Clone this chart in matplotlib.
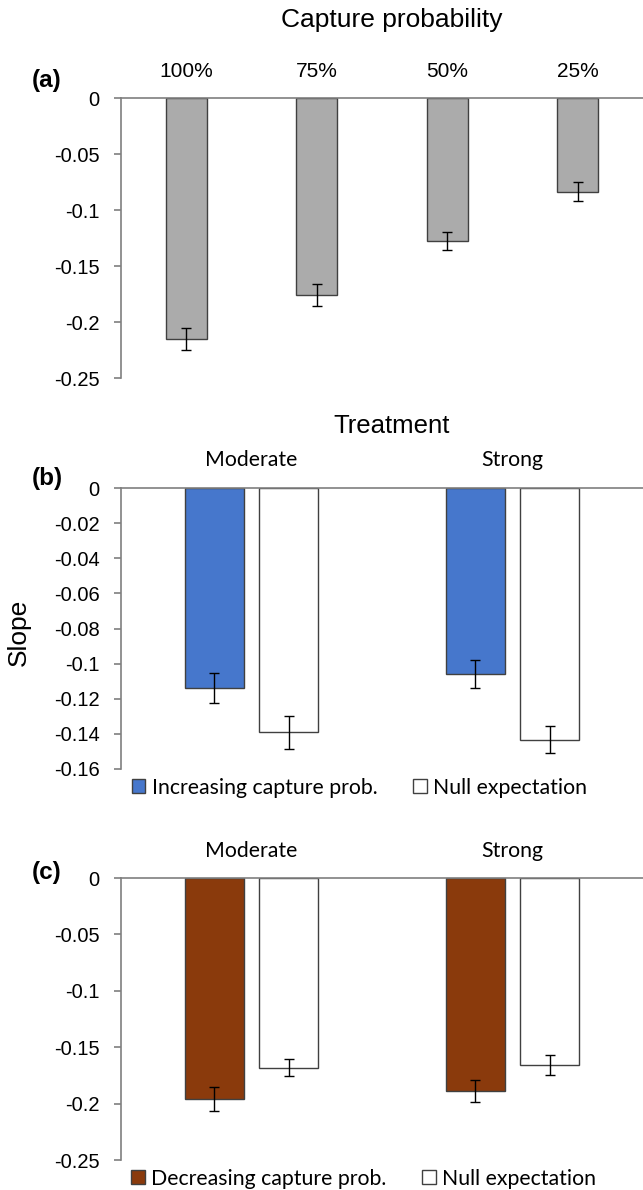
import matplotlib.pyplot as plt
from matplotlib.patches import Patch

# values
cap_labels = ['100%', '75%', '50%', '25%']
cap_slope = [-0.215, -0.176, -0.128, -0.0835]
cap_err = [0.010, 0.0095, 0.008, 0.0083]

treat_labels = ['Moderate', 'Strong']
inc_slope = [-0.114, -0.106]
inc_err = [0.0084, 0.008]
null_b_slope = [-0.139, -0.1433]
null_b_err = [0.0094, 0.0078]

dec_slope = [-0.196, -0.189]
dec_err = [0.0105, 0.0098]
null_c_slope = [-0.168, -0.1657]
null_c_err = [0.0078, 0.0092]

W, H = 643, 1190
fig = plt.figure(figsize=(W / 100, H / 100), dpi=100)

num_font = ['Liberation Sans', 'DejaVu Sans']
cal_font = ['Lato', 'DejaVu Sans']
spine_col = '#7f7f7f'
edge_col = '#404040'
AX_L, AX_W = 121, 522


def make_axes(top_px, bottom_px):
    ax = fig.add_axes([AX_L / W, 1 - bottom_px / H, AX_W / W, (bottom_px - top_px) / H])
    for s in ['right', 'bottom']:
        ax.spines[s].set_visible(False)
    for s in ['left', 'top']:
        ax.spines[s].set_color(spine_col)
        ax.spines[s].set_linewidth(1.2)
    ax.tick_params(axis='y', direction='out', length=5.4, color=spine_col, width=1.2, pad=10)
    ax.tick_params(axis='x', top=True, bottom=False, labeltop=True, labelbottom=False, length=0)
    return ax


err_kw = dict(ecolor='black', elinewidth=1, capsize=3.5, capthick=1)

# (a) capture probability
ax1 = make_axes(98, 378)
x = list(range(len(cap_labels)))
ax1.bar(x, cap_slope, width=0.315, color='#ababab', edgecolor=edge_col, linewidth=1,
        yerr=cap_err, error_kw=err_kw)
ax1.set_xlim(-0.5, 3.5)
ax1.set_ylim(-0.25, 0)
ax1.set_yticks([0, -0.05, -0.1, -0.15, -0.2, -0.25])
ax1.set_yticklabels(['0', '-0.05', '-0.1', '-0.15', '-0.2', '-0.25'], family=num_font, fontsize=14.5)
ax1.set_xticks(x)
ax1.set_xticklabels(cap_labels, family=num_font, fontsize=15)
ax1.tick_params(axis='x', pad=12)

# (b) increasing capture probability
ax2 = make_axes(488, 769)
x2 = [0, 1]
off = 0.142
bw = 0.227
ax2.bar([i - off for i in x2], inc_slope, width=bw, color='#4677cc', edgecolor=edge_col,
        linewidth=1, yerr=inc_err, error_kw=err_kw)
ax2.bar([i + off for i in x2], null_b_slope, width=bw, color='white', edgecolor=edge_col,
        linewidth=1, yerr=null_b_err, error_kw=err_kw)
ax2.set_xlim(-0.5, 1.5)
ax2.set_ylim(-0.16, 0)
ax2.set_yticks([0, -0.02, -0.04, -0.06, -0.08, -0.1, -0.12, -0.14, -0.16])
ax2.set_yticklabels(['0', '-0.02', '-0.04', '-0.06', '-0.08', '-0.1', '-0.12', '-0.14', '-0.16'],
                    family=num_font, fontsize=14.5)
ax2.set_xticks(x2)
ax2.set_xticklabels(treat_labels, family=cal_font, fontsize=15.3)
ax2.tick_params(axis='x', pad=13)
ax2.legend(handles=[Patch(facecolor='#4677cc', edgecolor=edge_col, label='Increasing capture prob.'),
                    Patch(facecolor='white', edgecolor=edge_col, label='Null expectation')],
           loc='center', bbox_to_anchor=(0.457, -0.066), ncol=2, frameon=False,
           prop={'family': cal_font, 'size': 15.3}, handlelength=0.62, handleheight=0.62,
           handletextpad=0.3, columnspacing=1.7, borderpad=0)

# (c) decreasing capture probability
ax3 = make_axes(878, 1160)
ax3.bar([i - off for i in x2], dec_slope, width=bw, color='#8a3a0c', edgecolor=edge_col,
        linewidth=1, yerr=dec_err, error_kw=err_kw)
ax3.bar([i + off for i in x2], null_c_slope, width=bw, color='white', edgecolor=edge_col,
        linewidth=1, yerr=null_c_err, error_kw=err_kw)
ax3.set_xlim(-0.5, 1.5)
ax3.set_ylim(-0.25, 0)
ax3.set_yticks([0, -0.05, -0.1, -0.15, -0.2, -0.25])
ax3.set_yticklabels(['0', '-0.05', '-0.1', '-0.15', '-0.2', '-0.25'], family=num_font, fontsize=14.5)
ax3.set_xticks(x2)
ax3.set_xticklabels(treat_labels, family=cal_font, fontsize=15.3)
ax3.tick_params(axis='x', pad=12.5)
ax3.legend(handles=[Patch(facecolor='#8a3a0c', edgecolor=edge_col, label='Decreasing capture prob.'),
                    Patch(facecolor='white', edgecolor=edge_col, label='Null expectation')],
           loc='center', bbox_to_anchor=(0.465, -0.066), ncol=2, frameon=False,
           prop={'family': cal_font, 'size': 15.3}, handlelength=0.62, handleheight=0.62,
           handletextpad=0.3, columnspacing=1.7, borderpad=0)

# titles and panel labels
fig.text(392 / W, 1 - 20 / H, 'Capture probability', ha='center', va='center',
         family=num_font, fontsize=19)
fig.text(392 / W, 1 - 426 / H, 'Treatment', ha='center', va='center',
         family=num_font, fontsize=18.5)
fig.text(19 / W, 1 - 632 / H, 'Slope', ha='center', va='center', rotation=90,
         family=num_font, fontsize=19)
for lab, yp in [('(a)', 80), ('(b)', 478), ('(c)', 872)]:
    fig.text(47 / W, 1 - yp / H, lab, ha='center', va='center', family=num_font,
             fontsize=17.5, fontweight='bold')

fig.savefig('out.png', dpi=100)
